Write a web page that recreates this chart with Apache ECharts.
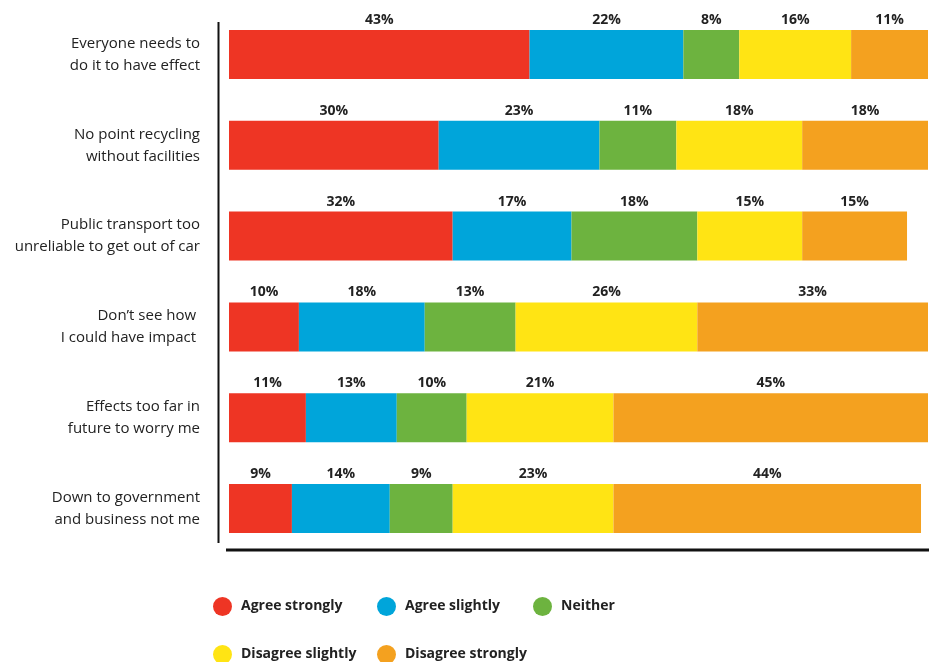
<!DOCTYPE html>
<html>
<head>
<meta charset="utf-8">
<script src="https://cdn.jsdelivr.net/npm/echarts@6/dist/echarts.min.js"></script>
<style>
  html, body { margin: 0; padding: 0; background: #fff; }
  #chart { width: 929px; height: 662px; }
</style>
</head>
<body>
<div id="chart"></div>
<script>
// Survey statements (top to bottom)
const categories = [
  'Everyone needs to\ndo it to have effect',
  'No point recycling\nwithout facilities',
  'Public transport too\nunreliable to get out of car',
  'Don\u2019t see how \nI could have impact ',
  'Effects too far in\nfuture to worry me',
  'Down to government\nand business not me'
];

// Share of respondents (%) per answer
const agreeStrongly    = [43, 30, 32, 10, 11, 9];
const agreeSlightly    = [22, 23, 17, 18, 13, 14];
const neither          = [8, 11, 18, 13, 10, 9];
const disagreeSlightly = [16, 18, 15, 26, 21, 23];
const disagreeStrongly = [11, 18, 15, 33, 45, 44];

const seriesNames = ['Agree strongly', 'Agree slightly', 'Neither', 'Disagree slightly', 'Disagree strongly'];
const seriesValues = [agreeStrongly, agreeSlightly, neither, disagreeSlightly, disagreeStrongly];
const seriesColors = ['#EE3524', '#00A5DA', '#6DB33F', '#FFE414', '#F4A11F'];

const FONT = '"Open Sans", "Noto Sans", sans-serif';

const chart = echarts.init(document.getElementById('chart'), null, { renderer: 'canvas' });

// One legend block per answer so each sits in its own column slot
const legendSlots = [
  { left: 213, top: 597 },
  { left: 377, top: 597 },
  { left: 533, top: 597 },
  { left: 213, top: 645 },
  { left: 377, top: 645 }
];

const legends = seriesNames.map((name, i) => ({
  data: [name],
  left: legendSlots[i].left,
  top: legendSlots[i].top,
  padding: 0,
  icon: 'circle',
  itemWidth: 19,
  itemHeight: 19,
  selectedMode: false,
  textStyle: {
    fontFamily: FONT,
    fontSize: 14,
    fontWeight: 'bold',
    color: '#222',
    padding: [0, 0, 0, 4]
  }
}));

const series = seriesNames.map((name, i) => ({
  name: name,
  type: 'bar',
  stack: 'total',
  barWidth: 49,
  data: seriesValues[i],
  itemStyle: { color: seriesColors[i] },
  emphasis: { disabled: true },
  label: {
    show: true,
    position: 'top',
    distance: 3,
    formatter: '{c}%',
    fontFamily: FONT,
    fontSize: 14,
    fontWeight: 'bold',
    color: '#222'
  }
}));

chart.setOption({
  animation: false,
  backgroundColor: '#fff',
  legend: legends,
  grid: { left: 229, right: 1, top: 9, bottom: 108, containLabel: false },
  xAxis: {
    type: 'value',
    min: 0,
    max: 100,
    show: false
  },
  yAxis: {
    type: 'category',
    data: categories,
    inverse: true,
    axisLine: { show: false },
    axisTick: { show: false },
    splitLine: { show: false },
    axisLabel: {
      margin: 29,
      fontFamily: FONT,
      fontSize: 15,
      lineHeight: 22,
      color: '#222',
      align: 'right'
    }
  },
  graphic: [
    // vertical rule beside the statements
    {
      type: 'line',
      shape: { x1: 218.5, y1: 22, x2: 218.5, y2: 543 },
      style: { stroke: '#111', lineWidth: 2 },
      silent: true
    },
    // baseline under the bars
    {
      type: 'line',
      shape: { x1: 226, y1: 550, x2: 929, y2: 550 },
      style: { stroke: '#111', lineWidth: 3 },
      silent: true
    }
  ],
  series: series
});
</script>
</body>
</html>
